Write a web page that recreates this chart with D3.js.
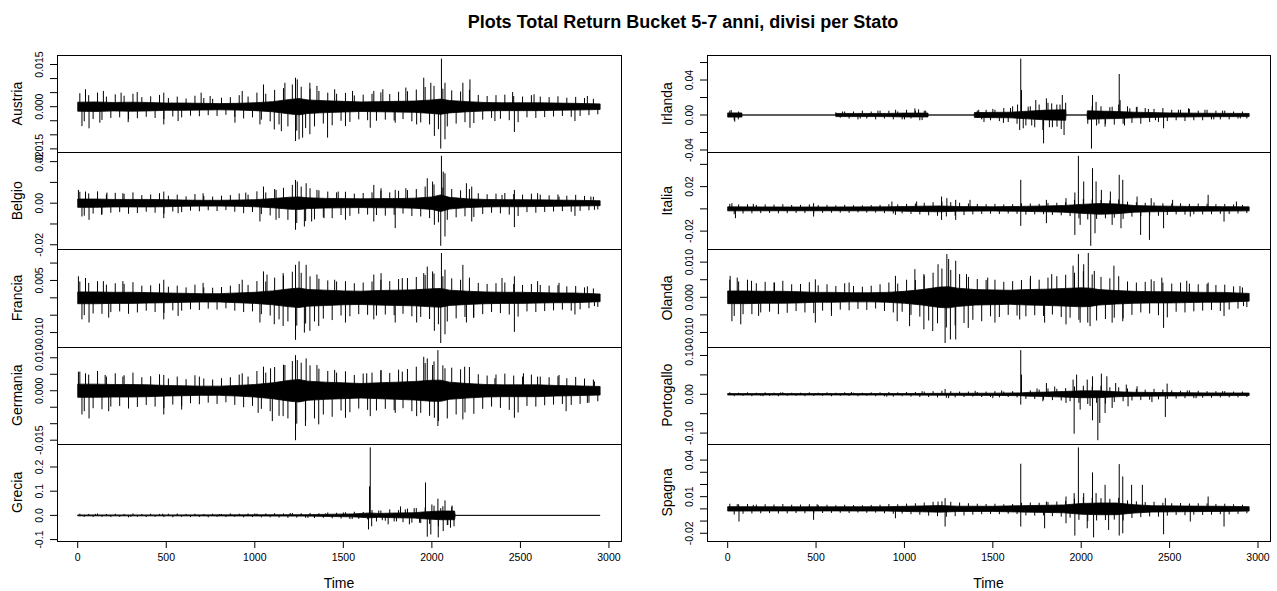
<!DOCTYPE html>
<html><head><meta charset="utf-8">
<script src="https://cdn.jsdelivr.net/npm/d3@7"></script>
<style>body{margin:0;background:#fff} svg{display:block} text{font-family:"Liberation Sans",Arial,sans-serif;fill:#000}</style>
</head><body><svg id="c" width="1277" height="591"></svg>
<script>
// ---------------- DATA ----------------
const chartTitle = "Plots Total Return Bucket 5-7 anni, divisi per Stato";
const countries = ["Austria","Belgio","Francia","Germania","Grecia","Irlanda","Italia","Olanda","Portogallo","Spagna"];
const nObs = 2950;
const windowSize = 50;   // local max / min read for each 50-observation window
const xTicks = [0,500,1000,1500,2000,2500,3000];

// dense core of each series: [time, half-width of the black band]
const austriaBand = [[0,.0016],[100,.0017],[200,.0015],[300,.0016],[400,.0015],[500,.0013],[600,.0013],[700,.0012],[800,.0011],[900,.0012],[1000,.0014],[1100,.0018],[1200,.0026],[1250,.0029],[1300,.0024],[1400,.0021],[1500,.0019],[1600,.0017],[1700,.0018],[1800,.0019],[1900,.0020],[2000,.0024],[2050,.0027],[2100,.0022],[2200,.0018],[2300,.0015],[2400,.0014],[2500,.0014],[2600,.0014],[2700,.0013],[2800,.0012],[2950,.0010]];
const belgioBand = [[0,.0020],[100,.0020],[200,.0018],[300,.0018],[400,.0018],[500,.0017],[600,.0015],[700,.0014],[800,.0014],[900,.0015],[1000,.0017],[1100,.0022],[1200,.0029],[1250,.0030],[1300,.0026],[1400,.0023],[1500,.0022],[1600,.0021],[1700,.0022],[1800,.0022],[1900,.0024],[2000,.0030],[2050,.0040],[2100,.0028],[2200,.0021],[2300,.0018],[2400,.0017],[2500,.0017],[2600,.0016],[2700,.0015],[2800,.0014],[2950,.0012]];
const franciaBand = [[0,.0017],[100,.0017],[200,.0016],[300,.0016],[400,.0015],[500,.0014],[600,.0013],[700,.0012],[800,.0012],[900,.0014],[1000,.0016],[1100,.0020],[1200,.0026],[1250,.0028],[1300,.0024],[1400,.0022],[1500,.0020],[1600,.0019],[1700,.0021],[1800,.0022],[1900,.0023],[2000,.0026],[2050,.0027],[2100,.0022],[2200,.0019],[2300,.0017],[2400,.0016],[2500,.0016],[2600,.0015],[2700,.0014],[2800,.0014],[2950,.0011]];
const germaniaBand = [[0,.0020],[100,.0020],[200,.0019],[300,.0019],[400,.0018],[500,.0016],[600,.0015],[700,.0014],[800,.0014],[900,.0016],[1000,.0019],[1100,.0024],[1200,.0032],[1250,.0034],[1300,.0029],[1400,.0026],[1500,.0024],[1600,.0022],[1700,.0024],[1800,.0026],[1900,.0028],[2000,.0032],[2050,.0032],[2100,.0026],[2200,.0022],[2300,.0019],[2400,.0018],[2500,.0018],[2600,.0018],[2700,.0016],[2800,.0015],[2950,.0013]];
const greciaBand = [[0,.002],[500,.002],[1000,.0025],[1300,.003],[1450,.005],[1550,.006],[1650,.010],[1700,.008],[1800,.010],[1900,.011],[1950,.014],[2050,.018],[2128,.018],[2132,0],[2950,0]];
const irlandaBand = [[0,.0024],[80,.0024],[82,0],[610,0],[612,.0018],[900,.0018],[1000,.0022],[1133,.0022],[1135,0],[1394,0],[1396,.0028],[1600,.0032],[1700,.0044],[1800,.0056],[1912,.0060],[1914,0],[2033,0],[2035,.0048],[2200,.0040],[2300,.0032],[2500,.0024],[2700,.0020],[2950,.0018]];
const italiaBand = [[0,.0018],[300,.0017],[600,.0017],[900,.0018],[1000,.0021],[1100,.0024],[1200,.0026],[1300,.0021],[1500,.0019],[1650,.0022],[1800,.0026],[1900,.0030],[2000,.0040],[2100,.0048],[2200,.0044],[2300,.0030],[2400,.0026],[2600,.0022],[2800,.0020],[2950,.0018]];
const olandaBand = [[0,.0018],[100,.0018],[200,.0017],[300,.0017],[400,.0016],[500,.0014],[600,.0014],[700,.0013],[800,.0013],[900,.0014],[1000,.0017],[1100,.0022],[1200,.0029],[1250,.0030],[1300,.0026],[1400,.0022],[1500,.0021],[1600,.0020],[1700,.0022],[1800,.0023],[1900,.0025],[2000,.0027],[2050,.0026],[2100,.0022],[2200,.0019],[2300,.0017],[2400,.0016],[2500,.0016],[2600,.0015],[2700,.0014],[2800,.0014],[2950,.0011]];
const portogalloBand = [[0,.0018],[600,.0018],[1000,.0020],[1200,.0024],[1500,.0028],[1650,.0036],[1700,.0048],[1800,.0056],[1900,.0072],[2000,.0088],[2100,.0088],[2200,.0064],[2300,.0052],[2500,.0044],[2700,.0036],[2950,.0032]];
const spagnaBand = [[0,.0018],[300,.0017],[600,.0017],[900,.0018],[1000,.0021],[1100,.0024],[1200,.0027],[1300,.0022],[1500,.0021],[1650,.0026],[1800,.0029],[1900,.0032],[2000,.0044],[2100,.0048],[2200,.0048],[2300,.0034],[2400,.0026],[2600,.0023],[2800,.0021],[2950,.0018]];

// local maximum / minimum of every 50-observation window
const austriaHi = [.0048,.0041,.0050,.0036,.0044,.0039,.0046,.0034,.0037,.0042, .0031,.0036,.0029,.0039,.0031,.0028,.0032,.0034,.0041,.0036, .0050,.0046,.0060,.0066,.0079,.0071,.0064,.0056,.0050,.0046, .0049,.0040,.0043,.0046,.0051,.0045,.0053,.0055,.0061,.0070, .0074,.0064,.0058,.0054,.0060,.0042,.0038,.0041,.0043,.0038, .0036,.0041,.0036,.0034,.0037,.0032,.0035,.0031,.0028];
const austriaLo = [-.0052,-.0044,-.0047,-.0040,-.0038,-.0045,-.0041,-.0036,-.0040,-.0044, -.0035,-.0038,-.0032,-.0034,-.0030,-.0033,-.0029,-.0036,-.0042,-.0038, -.0046,-.0052,-.0063,-.0070,-.0085,-.0076,-.0070,-.0060,-.0066,-.0050, -.0054,-.0045,-.0048,-.0050,-.0046,-.0049,-.0044,-.0052,-.0056,-.0063, -.0080,-.0070,-.0060,-.0055,-.0058,-.0046,-.0040,-.0043,-.0048,-.0055, -.0038,-.0040,-.0037,-.0035,-.0033,-.0036,-.0033,-.0030,-.0027];
const belgioHi = [.0055,.0047,.0057,.0042,.0050,.0045,.0052,.0039,.0042,.0048, .0036,.0041,.0033,.0044,.0035,.0032,.0036,.0039,.0047,.0041, .0057,.0052,.0068,.0074,.0088,.0080,.0072,.0062,.0056,.0052, .0055,.0046,.0049,.0052,.0060,.0052,.0060,.0063,.0068,.0080, .0090,.0075,.0068,.0062,.0068,.0048,.0043,.0046,.0049,.0044, .0041,.0046,.0041,.0038,.0042,.0036,.0040,.0035,.0031];
const belgioLo = [-.0060,-.0050,-.0054,-.0046,-.0043,-.0051,-.0047,-.0041,-.0046,-.0050, -.0040,-.0043,-.0036,-.0039,-.0034,-.0038,-.0033,-.0041,-.0048,-.0043, -.0052,-.0059,-.0072,-.0080,-.0095,-.0086,-.0078,-.0068,-.0072,-.0057, -.0061,-.0051,-.0055,-.0057,-.0060,-.0056,-.0050,-.0062,-.0064,-.0072, -.0092,-.0080,-.0068,-.0063,-.0066,-.0052,-.0046,-.0049,-.0055,-.0062, -.0043,-.0046,-.0042,-.0040,-.0038,-.0041,-.0037,-.0034,-.0030];
const franciaHi = [.0047,.0043,.0048,.0038,.0042,.0040,.0045,.0035,.0036,.0041, .0032,.0035,.0030,.0038,.0030,.0029,.0031,.0035,.0040,.0037, .0048,.0047,.0058,.0064,.0075,.0072,.0062,.0055,.0050,.0047, .0048,.0042,.0044,.0047,.0052,.0048,.0054,.0057,.0060,.0066, .0070,.0062,.0056,.0052,.0058,.0043,.0040,.0042,.0044,.0040, .0037,.0040,.0037,.0035,.0036,.0033,.0034,.0030,.0027];
const franciaLo = [-.0050,-.0045,-.0046,-.0041,-.0039,-.0046,-.0042,-.0037,-.0041,-.0043, -.0036,-.0037,-.0033,-.0035,-.0031,-.0034,-.0030,-.0037,-.0041,-.0039, -.0047,-.0051,-.0062,-.0068,-.0080,-.0074,-.0068,-.0060,-.0064,-.0051, -.0053,-.0047,-.0049,-.0051,-.0048,-.0050,-.0046,-.0053,-.0055,-.0061, -.0076,-.0068,-.0059,-.0055,-.0057,-.0047,-.0041,-.0044,-.0048,-.0054, -.0039,-.0041,-.0038,-.0036,-.0034,-.0037,-.0033,-.0030,-.0026];
const germaniaHi = [.0058,.0049,.0060,.0043,.0053,.0047,.0055,.0041,.0044,.0050, .0037,.0043,.0035,.0047,.0037,.0034,.0038,.0041,.0049,.0043, .0060,.0055,.0072,.0079,.0090,.0085,.0077,.0067,.0060,.0055, .0059,.0048,.0052,.0055,.0061,.0054,.0064,.0066,.0073,.0084, .0089,.0077,.0070,.0065,.0072,.0050,.0046,.0049,.0052,.0046, .0043,.0049,.0043,.0041,.0044,.0038,.0042,.0037,.0034];
const germaniaLo = [-.0062,-.0053,-.0056,-.0048,-.0046,-.0054,-.0049,-.0043,-.0048,-.0053, -.0042,-.0046,-.0038,-.0041,-.0036,-.0040,-.0035,-.0043,-.0050,-.0046, -.0055,-.0062,-.0076,-.0084,-.0100,-.0091,-.0084,-.0072,-.0079,-.0060, -.0065,-.0054,-.0058,-.0060,-.0055,-.0059,-.0053,-.0062,-.0067,-.0076, -.0092,-.0084,-.0072,-.0066,-.0070,-.0055,-.0048,-.0052,-.0058,-.0066, -.0046,-.0048,-.0044,-.0042,-.0040,-.0043,-.0040,-.0036,-.0032];
const greciaHi = [.007,.006,.008,.006,.007,.006,.008,.006,.007,.006, .007,.008,.006,.007,.006,.007,.006,.008,.007,.008, .007,.008,.009,.008,.010,.009,.010,.009,.012,.011, .013,.015,.014,.022,.020,.025,.022,.028,.030,.032, .040,.038,.035,0,0,0,0,0,0,0, 0,0,0,0,0,0,0,0,0];
const greciaLo = [-.006,-.007,-.006,-.007,-.006,-.008,-.006,-.007,-.006,-.007, -.008,-.006,-.007,-.006,-.008,-.006,-.007,-.006,-.008,-.007, -.008,-.008,-.009,-.010,-.009,-.010,-.011,-.010,-.012,-.013, -.015,-.014,-.016,-.025,-.022,-.025,-.028,-.030,-.032,-.035, -.045,-.040,0,0,0,0,0,0,0,0, 0,0,0,0,0,0,0,0,0];
const irlandaHi = [.005,.004,0,0,0,0,0,0,0,0, 0,0,.003,.004,.004,.005,.004,.005,.005,.004, .006,.005,.005,0,0,0,0,0,.005,.006, .006,.008,.010,.012,.010,.012,.014,.012,.014,0, 0,.010,.010,.009,.012,.010,.009,.008,.007,.008, .006,.006,.007,.005,.006,.005,.005,.004,.004];
const irlandaLo = [-.006,0,0,0,0,0,0,0,0,0, 0,0,-.003,-.004,-.005,-.004,-.005,-.004,-.005,-.005, -.004,-.006,0,0,0,0,0,0,-.005,-.006, -.007,-.008,-.010,-.012,-.014,-.012,-.014,-.016,0,0, -.010,-.012,-.010,-.011,-.010,-.009,-.010,-.008,-.008,-.007, -.006,-.007,-.006,-.006,-.005,-.005,-.005,-.004,-.004];
const italiaHi = [.0045,.0040,.0042,.0036,.0040,.0038,.0042,.0035,.0036,.0040, .0034,.0036,.0032,.0036,.0033,.0032,.0034,.0036,.0042,.0040, .0045,.0048,.0055,.0060,.0065,.0060,.0055,.0048,.0044,.0042, .0044,.0040,.0042,.0050,.0048,.0045,.0052,.0055,.0060,.0080, .0090,.0085,.0080,.0075,.0085,.0065,.0060,.0055,.0058,.0050, .0048,.0050,.0045,.0048,.0046,.0042,.0044,.0040,.0036];
const italiaLo = [-.0048,-.0042,-.0040,-.0038,-.0037,-.0040,-.0039,-.0036,-.0038,-.0040, -.0036,-.0035,-.0034,-.0036,-.0032,-.0034,-.0033,-.0038,-.0042,-.0041, -.0046,-.0050,-.0058,-.0062,-.0068,-.0062,-.0056,-.0050,-.0046,-.0044, -.0046,-.0042,-.0045,-.0052,-.0050,-.0048,-.0055,-.0058,-.0065,-.0085, -.0095,-.0090,-.0085,-.0080,-.0090,-.0070,-.0065,-.0060,-.0062,-.0055, -.0050,-.0052,-.0048,-.0050,-.0048,-.0045,-.0046,-.0042,-.0038];
const olandaHi = [.0050,.0045,.0050,.0040,.0044,.0042,.0047,.0037,.0038,.0043, .0034,.0037,.0032,.0040,.0032,.0030,.0033,.0037,.0042,.0039, .0050,.0049,.0062,.0070,.0082,.0078,.0066,.0058,.0052,.0049, .0050,.0044,.0046,.0049,.0054,.0050,.0056,.0060,.0064,.0070, .0074,.0065,.0058,.0054,.0060,.0045,.0042,.0044,.0046,.0042, .0039,.0042,.0039,.0037,.0038,.0035,.0036,.0031,.0028];
const olandaLo = [-.0053,-.0048,-.0048,-.0043,-.0041,-.0048,-.0044,-.0039,-.0043,-.0045, -.0038,-.0039,-.0035,-.0037,-.0033,-.0036,-.0032,-.0039,-.0043,-.0041, -.0050,-.0055,-.0066,-.0074,-.0086,-.0080,-.0073,-.0064,-.0068,-.0054, -.0056,-.0050,-.0052,-.0054,-.0051,-.0053,-.0049,-.0056,-.0058,-.0064, -.0072,-.0066,-.0062,-.0058,-.0060,-.0050,-.0043,-.0046,-.0051,-.0057, -.0041,-.0043,-.0040,-.0038,-.0036,-.0039,-.0035,-.0032,-.0028];
const portogalloHi = [.005,.004,.005,.004,.005,.004,.005,.004,.004,.005, .004,.005,.004,.005,.004,.004,.005,.005,.006,.005, .006,.006,.007,.008,.009,.008,.007,.007,.006,.007, .008,.007,.008,.012,.010,.012,.015,.014,.016,.020, .022,.020,.022,.018,.018,.015,.014,.012,.014,.012, .010,.009,.010,.009,.008,.008,.008,.007,.007];
const portogalloLo = [-.005,-.004,-.005,-.004,-.004,-.005,-.004,-.004,-.005,-.004, -.004,-.005,-.004,-.004,-.005,-.004,-.005,-.005,-.006,-.005, -.006,-.007,-.007,-.008,-.009,-.008,-.007,-.006,-.007,-.007, -.008,-.007,-.008,-.012,-.012,-.014,-.015,-.016,-.018,-.022, -.025,-.022,-.024,-.020,-.018,-.016,-.015,-.014,-.013,-.012, -.011,-.010,-.010,-.009,-.009,-.008,-.008,-.008,-.007];
const spagnaHi = [.0042,.0038,.0040,.0035,.0038,.0036,.0040,.0034,.0035,.0038, .0032,.0034,.0030,.0034,.0031,.0030,.0032,.0034,.0040,.0038, .0043,.0046,.0052,.0058,.0062,.0058,.0052,.0046,.0042,.0040, .0042,.0038,.0040,.0050,.0052,.0050,.0056,.0060,.0066,.0085, .0095,.0090,.0088,.0082,.0090,.0070,.0062,.0056,.0058,.0050, .0046,.0048,.0044,.0046,.0045,.0040,.0042,.0038,.0034];
const spagnaLo = [-.0046,-.0040,-.0038,-.0036,-.0035,-.0038,-.0037,-.0034,-.0036,-.0038, -.0034,-.0033,-.0032,-.0034,-.0030,-.0032,-.0031,-.0036,-.0040,-.0039, -.0044,-.0048,-.0056,-.0060,-.0065,-.0060,-.0054,-.0048,-.0044,-.0042, -.0044,-.0040,-.0043,-.0054,-.0056,-.0054,-.0060,-.0064,-.0072,-.0090, -.0100,-.0095,-.0092,-.0088,-.0095,-.0075,-.0068,-.0062,-.0064,-.0056, -.0050,-.0052,-.0048,-.0050,-.0048,-.0044,-.0045,-.0041,-.0036];

// individual large spikes: [time, value]
const austriaSpikes = [[44,.0062],[145,.0056],[245,.0050],[336,.0052],[486,.0050],[697,.0050],[748,.0038],[929,.0056],[1049,.0079],[1170,.0085],[1230,.0103],[1240,.0097],[1311,.0085],[1351,.0074],[1451,.0062],[1552,.0056],[1672,.0056],[1723,.0062],[1853,.0068],[1954,.0103],[1994,.0085],[2054,.0171],[2074,.0085],[2175,.0085],[2215,.0097],[2456,.0052],[2577,.0044],[2878,.0038],
[24,-.0069],[64,-.0077],[125,-.0057],[285,-.0055],[486,-.0063],[567,-.0051],[888,-.0057],[1029,-.0063],[1110,-.0081],[1150,-.0087],[1230,-.0122],[1250,-.0116],[1270,-.0110],[1311,-.0098],[1411,-.0110],[1512,-.0069],[1652,-.0075],[1793,-.0057],[1914,-.0063],[2014,-.0104],[2050,-.0149],[2074,-.0116],[2215,-.0075],[2356,-.0051],[2466,-.0090],[2808,-.0051]];
const belgioSpikes = [[4,.0064],[44,.0056],[165,.0051],[255,.0048],[486,.0056],[708,.0048],[949,.0051],[1049,.0080],[1120,.0064],[1230,.0112],[1240,.0104],[1290,.0096],[1351,.0064],[1471,.0056],[1672,.0088],[1713,.0072],[1793,.0064],[1853,.0072],[1974,.0120],[2004,.0104],[2054,.0228],[2064,.0152],[2074,.0144],[2195,.0096],[2225,.0080],[2396,.0040],[2466,.0064],[2597,.0048],[2718,.0032],[2898,.0032],
[24,-.0064],[64,-.0080],[135,-.0056],[486,-.0072],[567,-.0048],[1029,-.0088],[1120,-.0080],[1230,-.0128],[1280,-.0112],[1321,-.0088],[1391,-.0072],[1512,-.0080],[1672,-.0088],[1793,-.0120],[2014,-.0104],[2050,-.0205],[2074,-.0160],[2225,-.0088],[2466,-.0115],[2808,-.0061],[2918,-.0032]];
const franciaSpikes = [[4,.0062],[44,.0057],[145,.0048],[255,.0048],[486,.0052],[708,.0043],[929,.0052],[1049,.0076],[1069,.0067],[1160,.0071],[1230,.0095],[1250,.0105],[1290,.0095],[1351,.0067],[1451,.0052],[1672,.0067],[1713,.0071],[1833,.0057],[1954,.0071],[1974,.0090],[2004,.0076],[2054,.0129],[2074,.0081],[2175,.0095],[2396,.0057],[2466,.0062],[2597,.0048],[2718,.0043],[2878,.0033],
[24,-.0062],[64,-.0071],[175,-.0057],[486,-.0062],[567,-.0052],[1029,-.0071],[1110,-.0076],[1160,-.0081],[1230,-.0121],[1280,-.0100],[1311,-.0095],[1361,-.0081],[1512,-.0071],[1672,-.0062],[1793,-.0071],[1914,-.0071],[2014,-.0095],[2050,-.0130],[2074,-.0105],[2195,-.0071],[2235,-.0057],[2466,-.0098],[2808,-.0048],[2918,-.0024]];
const germaniaSpikes = [[4,.0058],[44,.0053],[155,.0048],[255,.0043],[486,.0048],[687,.0043],[929,.0053],[1049,.0073],[1089,.0068],[1170,.0078],[1230,.0108],[1240,.0093],[1290,.0098],[1351,.0078],[1451,.0063],[1632,.0053],[1713,.0063],[1833,.0058],[1954,.0103],[1974,.0098],[2004,.0078],[2034,.0123],[2074,.0068],[2185,.0073],[2356,.0038],[2517,.0053],[2597,.0043],[2718,.0048],[2918,.0028],
[24,-.0072],[64,-.0084],[175,-.0062],[486,-.0072],[587,-.0057],[1019,-.0067],[1099,-.0092],[1160,-.0077],[1230,-.0150],[1286,-.0107],[1361,-.0102],[1512,-.0082],[1652,-.0077],[1793,-.0067],[1914,-.0077],[2014,-.0082],[2034,-.0107],[2175,-.0087],[2466,-.0082],[2758,-.0062],[2878,-.0037]];
const greciaSpikes = [[100,.006],[300,-.006],[480,.007],[800,.006],[1000,.008],[1200,.010],[1300,-.010],[1400,.008],[1500,.012],[1550,-.015],[1642,-.058],[1648,.12],[1652,.281],[1660,-.045],[1700,.02],[1720,-.02],[1753,-.037],[1800,-.025],[1823,.037],[1850,.025],[1873,-.037],[1900,.03],[1930,-.03],[1964,.136],[1974,-.088],[1994,-.079],[2000,.045],[2034,.069],[2036,-.091],[2050,.03],[2064,-.065],[2074,.062],[2090,-.04],[2105,-.051],[2114,.041],[2125,-.045]];
const irlandaSpikes = [[20,.0057],[40,-.0076],[60,-.005],[650,.004],[750,-.004],[850,.005],[950,.006],[1000,-.005],[1059,.0076],[1080,.0065],[1100,-.0057],[1120,.005],[1420,.006],[1450,-.008],[1500,.007],[1560,-.009],[1600,.008],[1640,.012],[1658,.0645],[1662,.0286],[1652,-.0171],[1672,-.0152],[1700,.0095],[1720,-.012],[1743,.0171],[1783,-.0171],[1787,-.0324],[1803,.019],[1820,-.014],[1833,.0133],[1863,-.0133],[1880,.012],[1893,.0229],[1903,-.0229],[2058,-.0384],[2064,.0229],[2084,.015],[2100,-.01],[2135,-.0133],[2175,.0095],[2215,.0469],[2220,.017],[2245,-.012],[2275,.0076],[2316,.0095],[2380,.007],[2420,-.006],[2466,-.0152],[2550,.006],[2607,.0076],[2700,.006],[2750,-.005],[2800,.005],[2900,-.004]];
const italiaSpikes = [[24,.0051],[145,.0045],[486,.0051],[929,.0066],[1069,.0066],[1210,.0111],[1240,.0096],[1290,.0081],[1371,.0081],[1658,.0261],[1803,.0081],[1914,.0096],[1964,.0147],[1984,.0477],[2014,.0246],[2064,.0366],[2084,.0246],[2114,.0171],[2165,.0156],[2215,.0306],[2235,.0261],[2316,.0111],[2396,.0096],[2517,.0081],[2718,.0126],[2878,.0066],
[44,-.0084],[486,-.0069],[949,-.0054],[1210,-.0099],[1290,-.0099],[1658,-.0153],[1803,-.0129],[1964,-.0234],[1994,-.0144],[2054,-.0332],[2078,-.0219],[2175,-.0144],[2225,-.0174],[2336,-.0234],[2386,-.0279],[2466,-.0174],[2617,-.0069],[2808,-.0114]];
const olandaSpikes = [[14,.0061],[54,.0056],[135,.0047],[265,.0042],[496,.0051],[687,.0042],[949,.0061],[1059,.0080],[1110,.0066],[1190,.0094],[1240,.0123],[1250,.0109],[1290,.0104],[1351,.0066],[1471,.0056],[1713,.0061],[1833,.0066],[1954,.0090],[1984,.0123],[2014,.0094],[2040,.0126],[2074,.0075],[2185,.0090],[2396,.0051],[2456,.0056],[2597,.0047],[2718,.0042],[2898,.0032],
[24,-.0068],[74,-.0077],[175,-.0053],[496,-.0072],[587,-.0053],[959,-.0068],[1029,-.0082],[1110,-.0091],[1160,-.0096],[1230,-.0130],[1260,-.0120],[1290,-.0120],[1361,-.0087],[1512,-.0072],[1652,-.0063],[1793,-.0072],[1914,-.0077],[1994,-.0072],[2050,-.0082],[2175,-.0072],[2235,-.0068],[2466,-.0087],[2808,-.0053],[2918,-.0025]];
const portogalloSpikes = [[300,.005],[700,.006],[1100,.008],[1230,.0137],[1400,.009],[1550,.010],[1658,.1136],[1662,.0507],[1750,.015],[1803,.029],[1850,.020],[1954,.0378],[1974,.0507],[2034,.0378],[2064,.0464],[2114,.0533],[2145,.0464],[2195,.029],[2255,.0249],[2316,.0206],[2486,.0275],[2600,.010],[2800,.008],
[200,-.005],[900,-.006],[1250,-.010],[1500,-.010],[1658,-.0266],[1783,-.018],[1914,-.0223],[1960,-.1014],[1994,-.0395],[2050,-.030],[2064,-.067],[2094,-.1183],[2105,-.0739],[2135,-.0481],[2175,-.0352],[2265,-.0309],[2400,-.020],[2476,-.0584],[2650,-.010]];
const spagnaSpikes = [[54,.0038],[145,.0033],[506,.0038],[1190,.006],[1230,.0088],[1658,.037],[1803,.006],[1914,.0101],[1960,.0129],[1984,.0504],[2014,.0129],[2064,.0299],[2084,.0129],[2135,.0197],[2215,.0367],[2235,.0266],[2285,.0197],[2346,.0197],[2476,.0088],[2718,.0101],
[64,-.0104],[486,-.009],[949,-.0077],[1230,-.0145],[1658,-.0145],[1793,-.0159],[1914,-.0118],[1964,-.0219],[2034,-.0159],[2070,-.0234],[2155,-.0173],[2215,-.0219],[2235,-.020],[2466,-.0208],[2617,-.0104],[2808,-.0145]];

// y-axis ticks and the tick labels that are printed
const austriaTicks = [-0.015,-0.01,-0.005,0,0.005,0.01,0.015], austriaLabels = ["-0.015","0.000","0.015"];
const belgioTicks = [-0.02,-0.01,0,0.01,0.02], belgioLabels = ["-0.02","0.00","0.02"];
const franciaTicks = [-0.01,-0.005,0,0.005,0.01], franciaLabels = ["-0.010","0.005"];
const germaniaTicks = [-0.015,-0.01,-0.005,0,0.005,0.01], germaniaLabels = ["-0.015","0.000","0.010"];
const greciaTicks = [-0.1,0,0.1,0.2], greciaLabels = ["-0.1","0.0","0.1","0.2"];
const irlandaTicks = [-0.04,-0.02,0,0.02,0.04,0.06], irlandaLabels = ["-0.04","0.00","0.04"];
const italiaTicks = [-0.02,0,0.02,0.04], italiaLabels = ["-0.02","0.02"];
const olandaTicks = [-0.01,-0.005,0,0.005,0.01], olandaLabels = ["-0.010","0.000","0.010"];
const portogalloTicks = [-0.1,-0.05,0,0.05,0.1], portogalloLabels = ["-0.10","0.00","0.10"];
const spagnaTicks = [-0.02,-0.01,0,0.01,0.02,0.03,0.04], spagnaLabels = ["-0.02","0.01","0.04"];

// ---------------- DRAWING ----------------
const bands = [austriaBand,belgioBand,franciaBand,germaniaBand,greciaBand,irlandaBand,italiaBand,olandaBand,portogalloBand,spagnaBand];
const his = [austriaHi,belgioHi,franciaHi,germaniaHi,greciaHi,irlandaHi,italiaHi,olandaHi,portogalloHi,spagnaHi];
const los = [austriaLo,belgioLo,franciaLo,germaniaLo,greciaLo,irlandaLo,italiaLo,olandaLo,portogalloLo,spagnaLo];
const spikes = [austriaSpikes,belgioSpikes,franciaSpikes,germaniaSpikes,greciaSpikes,irlandaSpikes,italiaSpikes,olandaSpikes,portogalloSpikes,spagnaSpikes];
const ticks = [austriaTicks,belgioTicks,franciaTicks,germaniaTicks,greciaTicks,irlandaTicks,italiaTicks,olandaTicks,portogalloTicks,spagnaTicks];
const labels = [austriaLabels,belgioLabels,franciaLabels,germaniaLabels,greciaLabels,irlandaLabels,italiaLabels,olandaLabels,portogalloLabels,spagnaLabels];

const svg = d3.select("#c");
const cols = [{x0:57,x1:621},{x0:707,x1:1270}];
const plotTop = 55, plotBottom = 541, nRows = 5, ph = (plotBottom-plotTop)/nRows;

svg.append("text").attr("x",683).attr("y",28).attr("text-anchor","middle")
  .style("font-size","18px").style("font-weight","bold").text(chartTitle);

countries.forEach((name,i)=>{
  const col = cols[Math.floor(i/nRows)], row = i % nRows;
  const py0 = plotTop + row*ph, py1 = py0 + ph;
  const pad = 0.04*(nObs-1);
  const x = d3.scaleLinear().domain([1-pad, nObs+pad]).range([col.x0,col.x1]);
  // window extremes as needles: the max early in each window, the min later in it
  const needles = [];
  his[i].forEach((h,k)=>{ needles.push([k*windowSize+12, h]); needles.push([k*windowSize+37, los[i][k]]); });
  const allSpikes = needles.concat(spikes[i]).filter(d=>d[1]!==0);
  const vals = bands[i].flatMap(d=>[d[1],-d[1]]).concat(allSpikes.map(d=>d[1]));
  const [mn,mx] = d3.extent(vals);
  const r = mx-mn;
  const y = d3.scaleLinear().domain([mn-0.04*r, mx+0.04*r]).range([py1,py0]);
  const g = svg.append("g");
  const cid = "clip"+i;
  svg.append("clipPath").attr("id",cid).append("rect")
    .attr("x",col.x0).attr("y",py0).attr("width",col.x1-col.x0).attr("height",ph);
  const pg = g.append("g").attr("clip-path",`url(#${cid})`);
  const area = d3.area().x(d=>x(d[0])).y0(d=>y(-d[1])).y1(d=>y(d[1]));
  pg.append("path").datum(bands[i]).attr("d",area)
    .attr("fill","#000").attr("stroke","#000").attr("stroke-width",0.8).attr("stroke-linejoin","round");
  pg.selectAll("line.sp").data(allSpikes).join("line").attr("class","sp")
    .attr("x1",d=>x(d[0])).attr("x2",d=>x(d[0]))
    .attr("y1",y(0)).attr("y2",d=>y(d[1]))
    .attr("stroke","#000").attr("stroke-width",1);
  g.append("rect").attr("x",col.x0+0.5).attr("y",Math.round(py0)+0.5)
    .attr("width",col.x1-col.x0).attr("height",Math.round(py1)-Math.round(py0))
    .attr("fill","none").attr("stroke","#000").attr("stroke-width",1);
  g.selectAll("line.tk").data(ticks[i]).join("line").attr("class","tk")
    .attr("x1",col.x0).attr("x2",col.x0-7).attr("y1",d=>y(d)).attr("y2",d=>y(d))
    .attr("stroke","#000").attr("stroke-width",1);
  g.selectAll("text.tl").data(labels[i]).join("text").attr("class","tl")
    .attr("transform",d=>`translate(${col.x0-14},${y(+d)}) rotate(-90)`)
    .attr("text-anchor","middle").style("font-size","10.5px").text(d=>d);
  g.append("text").attr("transform",`translate(${col.x0-35},${(py0+py1)/2}) rotate(-90)`)
    .attr("text-anchor","middle").style("font-size","14px").text(name);
  if (row === nRows-1) {
    const ax = g.append("g");
    ax.selectAll("line").data(xTicks).join("line")
      .attr("x1",d=>x(d)).attr("x2",d=>x(d)).attr("y1",plotBottom).attr("y2",plotBottom+7)
      .attr("stroke","#000").attr("stroke-width",1);
    ax.append("line").attr("x1",x(xTicks[0])).attr("x2",x(xTicks[xTicks.length-1]))
      .attr("y1",plotBottom+0.5).attr("y2",plotBottom+0.5).attr("stroke","#000");
    ax.selectAll("text").data(xTicks).join("text")
      .attr("x",d=>x(d)).attr("y",plotBottom+20).attr("text-anchor","middle")
      .style("font-size","10.5px").text(d=>d);
    g.append("text").attr("x",(col.x0+col.x1)/2).attr("y",588).attr("text-anchor","middle")
      .style("font-size","14px").text("Time");
  }
});
</script></body></html>
